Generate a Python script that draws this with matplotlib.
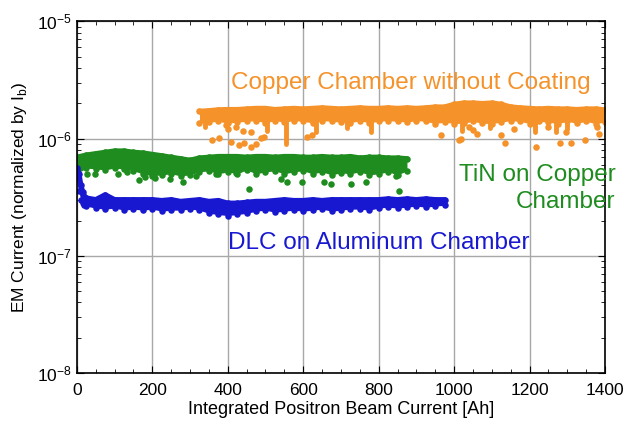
import matplotlib
matplotlib.use("Agg")
import matplotlib.pyplot as plt
from matplotlib.ticker import MultipleLocator, LogLocator, NullFormatter

plt.rcParams['font.family'] = ['Liberation Sans', 'DejaVu Sans']

# --- dense bands: x [Ah], top / bottom of the band ---
cu_x = [325, 350, 375, 400, 425, 450, 475, 500, 525, 550, 575, 600, 625, 650, 675,
        700, 725, 750, 775, 800, 825, 850, 875, 900, 925, 950, 975, 1000, 1025, 1050,
        1075, 1100, 1125, 1150, 1175, 1200, 1225, 1250, 1275, 1300, 1325, 1350, 1375, 1400]
cu_top = [1.70, 1.72, 1.75, 1.76, 1.76, 1.78, 1.80, 1.80, 1.76, 1.78, 1.80, 1.78, 1.80, 1.82, 1.80,
          1.78, 1.80, 1.82, 1.80, 1.80, 1.82, 1.80, 1.82, 1.80, 1.82, 1.85, 1.85, 1.95, 2.00, 2.00,
          1.98, 2.00, 1.95, 1.85, 1.82, 1.80, 1.78, 1.80, 1.78, 1.78, 1.76, 1.78, 1.78, 1.75]
cu_bot = [1.35, 1.38, 1.40, 1.35, 1.38, 1.40, 1.42, 1.36, 1.42, 1.38, 1.42, 1.40, 1.36, 1.42, 1.40,
          1.38, 1.36, 1.42, 1.36, 1.40, 1.42, 1.40, 1.38, 1.42, 1.40, 1.34, 1.38, 1.34, 1.35, 1.40,
          1.35, 1.34, 1.38, 1.42, 1.40, 1.34, 1.40, 1.38, 1.34, 1.40, 1.35, 1.40, 1.34, 1.38]
# narrow downward streaks below the orange band
cu_streak_x = [340, 505, 555, 634, 716, 779, 1020, 1096, 1215, 1271, 1300]
cu_streak_lo = [1.25, 1.15, 0.90, 1.13, 1.22, 1.13, 1.15, 1.22, 1.13, 1.13, 1.20]
cu_out_x = [359, 378, 409, 431, 444, 462, 475, 489, 497, 462, 423, 610, 623,
            964, 1017, 1012, 1136, 1123, 1218, 1281, 1310, 1347, 1297, 1051,
            400, 395, 440, 1040, 1060, 1160, 1250, 1380, 1385]
cu_out_y = [0.97, 1.01, 0.93, 0.88, 0.91, 0.85, 0.90, 1.01, 1.04, 1.13, 1.25, 1.04, 1.07,
            1.07, 1.00, 0.97, 0.91, 1.07, 0.85, 0.91, 0.91, 0.97, 1.13, 1.18,
            1.20, 1.30, 1.15, 1.25, 1.10, 1.20, 1.25, 1.25, 1.10]

tin_x = [0, 25, 50, 75, 100, 125, 150, 175, 200, 225, 250, 275, 300, 325, 350, 375, 400, 425,
         450, 475, 500, 525, 550, 575, 600, 625, 650, 675, 700, 725, 750, 775, 800, 825, 850, 875]
tin_top = [6.9, 7.2, 7.4, 7.6, 7.8, 7.8, 7.6, 7.5, 7.3, 7.1, 6.9, 6.7, 6.5, 6.8, 6.9, 7.0, 7.0, 7.0,
           6.9, 7.0, 7.0, 6.9, 7.0, 7.0, 6.9, 6.9, 7.0, 6.9, 6.9, 7.0, 6.8, 6.9, 6.9, 6.8, 6.8, 6.7]
tin_bot = [5.0, 5.6, 5.5, 5.4, 5.6, 5.5, 5.3, 5.0, 4.8, 4.9, 5.0, 4.8, 4.9, 5.2, 5.3, 5.0, 5.2, 5.0,
           5.4, 5.0, 5.2, 5.3, 5.0, 5.2, 5.3, 5.0, 5.2, 4.9, 5.1, 5.0, 5.2, 4.9, 5.0, 5.2, 4.9, 5.3]
tin_out_x = [26, 48, 108, 132, 166, 180, 206, 246, 280, 317, 370, 423, 457, 541, 557, 597,
             655, 674, 727, 766, 853, 845]
tin_out_y = [5.0, 5.0, 5.0, 5.2, 4.4, 4.7, 4.6, 4.5, 4.3, 4.8, 5.0, 5.1, 3.7, 4.5, 4.25, 4.25,
             4.3, 4.1, 4.1, 4.25, 3.6, 4.8]

dlc_x = [0, 5, 10, 15, 20, 25, 50, 75, 100, 125, 150, 175, 200, 225, 250, 275, 300, 325, 350,
         375, 400, 425, 450, 475, 500, 525, 550, 575, 600, 625, 650, 675, 700, 725, 750, 775,
         800, 825, 850, 875, 900, 925, 950, 975]
dlc_top = [5.6, 5.0, 4.0, 3.5, 3.2, 3.1, 3.0, 3.3, 3.0, 3.0, 3.0, 3.0, 3.0, 2.95, 3.0, 2.9, 2.95,
           3.0, 2.9, 2.95, 2.8, 2.8, 2.85, 2.9, 2.9, 2.95, 3.0, 2.95, 2.95, 3.0, 2.95, 3.0, 3.0,
           3.0, 3.0, 3.0, 3.0, 3.05, 3.0, 3.05, 3.0, 3.05, 3.0, 3.0]
dlc_bot = [4.6, 3.6, 3.0, 2.8, 2.7, 2.65, 2.55, 2.5, 2.55, 2.45, 2.5, 2.45, 2.5, 2.4, 2.45, 2.45,
           2.5, 2.45, 2.3, 2.25, 2.2, 2.25, 2.3, 2.4, 2.45, 2.35, 2.4, 2.45, 2.4, 2.45, 2.5, 2.4,
           2.45, 2.5, 2.5, 2.45, 2.55, 2.6, 2.55, 2.6, 2.65, 2.6, 2.65, 2.7]

orange = '#f5922a'
green = '#1e8c1e'
blue = '#1818d0'

fig = plt.figure(figsize=(6.25, 4.24), dpi=100)
ax = fig.add_axes([0.123, 0.120, 0.845, 0.830])


def band(x, top, bot, scale, color):
    t = [v * scale for v in top]
    b = [v * scale for v in bot]
    ax.fill_between(x, b, t, color=color, lw=0, zorder=2)
    ax.plot(x, t, color=color, lw=4, solid_capstyle='round', solid_joinstyle='round', zorder=2)
    ax.scatter(x, t, s=22, color=color, lw=0, zorder=2)
    ax.scatter(x, b, s=22, color=color, lw=0, zorder=2)


band(cu_x, cu_top, cu_bot, 1e-6, orange)
ax.vlines(cu_streak_x, [v * 1e-6 for v in cu_streak_lo], 1.45e-6, color=orange, lw=3.5,
          capstyle='round', zorder=2)
ax.scatter(cu_out_x, [v * 1e-6 for v in cu_out_y], s=22, color=orange, lw=0, zorder=2)

band(tin_x, tin_top, tin_bot, 1e-7, green)
ax.scatter(tin_out_x, [v * 1e-7 for v in tin_out_y], s=22, color=green, lw=0, zorder=2)

band(dlc_x, dlc_top, dlc_bot, 1e-7, blue)

ax.set_yscale('log')
ax.set_xlim(0, 1400)
ax.set_ylim(1e-8, 1e-5)
ax.xaxis.set_major_locator(MultipleLocator(200))
ax.xaxis.set_minor_locator(MultipleLocator(50))
ax.yaxis.set_major_locator(LogLocator(base=10, numticks=10))
ax.yaxis.set_minor_locator(LogLocator(base=10, subs=range(2, 10), numticks=20))
ax.yaxis.set_minor_formatter(NullFormatter())
ax.tick_params(which='both', direction='in', top=True, right=True, labelsize=12.5)
ax.tick_params(which='major', length=5)
ax.tick_params(which='minor', length=3)
ax.tick_params(axis='x', pad=7)
ax.grid(True, which='major', color='#a8a8a8', lw=1)
ax.set_axisbelow(True)
for s in ax.spines.values():
    s.set_linewidth(1.2)

ax.set_xlabel('Integrated Positron Beam Current [Ah]', fontsize=13, labelpad=2)
ax.set_ylabel('EM Current (normalized by I$_\\mathregular{b}$)', fontsize=12.5, labelpad=6)

ax.text(885, 2.95e-6, 'Copper Chamber without Coating', color=orange, fontsize=17.5,
        ha='center', va='center')
ax.text(1428, 3.75e-7, 'TiN on Copper\nChamber', color=green, fontsize=17.5,
        ha='right', va='center', multialignment='right', linespacing=1.3)
ax.text(800, 1.28e-7, 'DLC on Aluminum Chamber', color=blue, fontsize=17.5,
        ha='center', va='center')

fig.savefig('out.png', dpi=100, facecolor='white')
